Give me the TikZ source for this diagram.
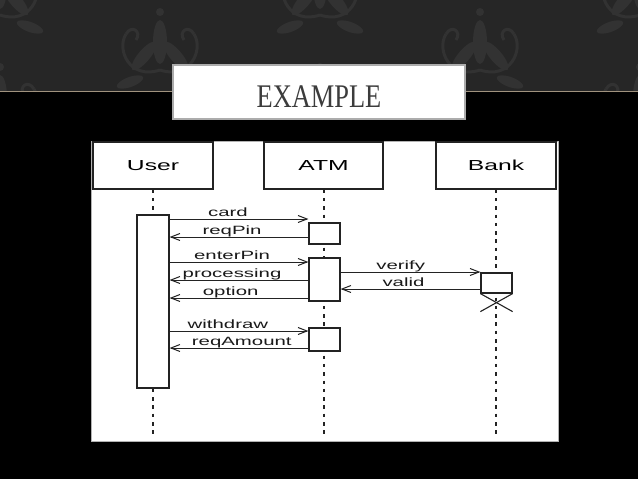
\documentclass[tikz,border=0pt]{standalone}
\usepackage{fontspec}
\usepackage{tikz}
\usetikzlibrary{arrows.meta}
\newfontfamily\umlfont[FakeStretch=1.7]{Liberation Sans}
\newfontfamily\titlefont[FakeStretch=0.8]{Liberation Serif}
\definecolor{bandgray}{RGB}{38,38,38}
\definecolor{damaskgray}{RGB}{50,50,50}
\definecolor{tanline}{RGB}{160,146,126}
\definecolor{titlegray}{RGB}{60,60,60}
\definecolor{umlline}{RGB}{35,35,35}
\tikzset{
  damask/.pic={
    \fill[damaskgray] (0,-8) ellipse[x radius=7, y radius=22];
    \fill[damaskgray] (0,-38) circle[radius=4];
    \foreach \s in {1,-1} {
      \fill[damaskgray, rotate around={\s*40:(\s*16,6)}] (\s*16,6) ellipse[x radius=6, y radius=18];
      \draw[damaskgray, line width=3pt] (0,20) .. controls (\s*30,30) and (\s*44,0) .. (\s*34,-16);
      \draw[damaskgray, line width=3pt] (\s*34,-16) .. controls (\s*28,-26) and (\s*18,-18) .. (\s*24,-10);
      \fill[damaskgray, rotate around={\s*70:(\s*30,32)}] (\s*30,32) ellipse[x radius=5, y radius=14];
    }
  }
}

\begin{document}
\begin{tikzpicture}[x=1pt, y=-1pt,
  headbox/.style={draw=umlline, line width=1.2pt, fill=white, minimum width=120pt, minimum height=47pt, inner sep=0pt, font=\umlfont\fontsize{14.5}{16}\selectfont},
  actbox/.style={draw=umlline, line width=1.2pt, fill=white, minimum width=31pt, inner sep=0pt},
  lifeline/.style={draw=umlline, line width=1.8pt, dash pattern=on 3.5pt off 4.8pt},
  msg/.style={draw=umlline, line width=1pt, -{Straight Barb[length=9pt,width=7pt]}},
  msglabel/.style={anchor=base, yshift=2.5pt, inner sep=0pt, text=black!90, font=\umlfont\fontsize{12}{13}\selectfont},
  xmark/.style={draw=umlline, line width=1.1pt}]
\useasboundingbox (0,0) rectangle (638,479);
% slide background
\fill[black] (0,0) rectangle (638,479);
\fill[bandgray] (0,0) rectangle (638,91);
\begin{scope}
  \clip (0,0) rectangle (638,91);
  \foreach \px/\py in {160/50, 480/50, 0/-5, 320/-5, 640/-5, 0/105, 320/105, 640/105}
    \pic at (\px,\py) {damask};
\end{scope}
\draw[tanline, line width=1pt] (0,91.5) -- (638,91.5);
% title
\node[draw=gray!65, line width=1.6pt, fill=white, minimum width=292pt, minimum height=54pt] (titlebox) at (319,92) {};
\node[anchor=base, text=titlegray, font=\titlefont\fontsize{33}{36}\selectfont] (titletext) at (319,107) {EXAMPLE};
% diagram panel
\draw[draw=gray!60, line width=1pt, fill=white] (91,141) rectangle (558,441);
% heads
\node[headbox] (user) at (153,165.5) {User};
\node[headbox, minimum width=119pt] (atm) at (323.5,165.5) {ATM};
\node[headbox] (bank) at (496,165.5) {Bank};
% lifelines
\draw[lifeline] (user.south) -- (user.south |- 0,435);
\draw[lifeline] ([xshift=0.5pt]atm.south) -- ([xshift=0.5pt]atm.south |- 0,435);
\draw[lifeline] (bank.south) -- (bank.south |- 0,435);
% activations
\node[actbox, minimum width=32pt, minimum height=173pt] (ubar) at (153,301.5) {};
\node[actbox, minimum height=21pt] (abar1) at (324.5,233.5) {};
\node[actbox, minimum height=43pt] (abar2) at (324.5,279.5) {};
\node[actbox, minimum height=23pt] (abar3) at (324.5,339.5) {};
\node[actbox, minimum height=20pt] (bbar) at (496.5,283) {};
\draw[xmark] (bbar.south west) -- ([yshift=-18pt]bbar.south east);
\draw[xmark] (bbar.south east) -- ([yshift=-18pt]bbar.south west);
% messages
\draw[msg] (ubar.east |- 0,219) -- (abar1.west |- 0,219) node[msglabel, pos=0.42] (lcard) {card};
\draw[msg] (abar1.west |- 0,237) -- (ubar.east |- 0,237) node[msglabel, pos=0.55] (lreqpin) {reqPin};
\draw[msg] (ubar.east |- 0,262) -- (abar2.west |- 0,262) node[msglabel, pos=0.45] (lenterpin) {enterPin};
\draw[msg] (abar2.west |- 0,280) -- (ubar.east |- 0,280) node[msglabel, pos=0.55] (lprocessing) {processing};
\draw[msg] (abar2.west |- 0,298) -- (ubar.east |- 0,298) node[msglabel, pos=0.56] (loption) {option};
\draw[msg] (abar2.east |- 0,272) -- (bbar.west |- 0,272) node[msglabel, pos=0.43] (lverify) {verify};
\draw[msg] (bbar.west |- 0,289) -- (abar2.east |- 0,289) node[msglabel, pos=0.55] (lvalid) {valid};
\draw[msg] (ubar.east |- 0,331) -- (abar3.west |- 0,331) node[msglabel, pos=0.42] (lwithdraw) {withdraw};
\draw[msg] (abar3.west |- 0,348) -- (ubar.east |- 0,348) node[msglabel, pos=0.48] (lreqamount) {reqAmount};
\end{tikzpicture}
\end{document}
